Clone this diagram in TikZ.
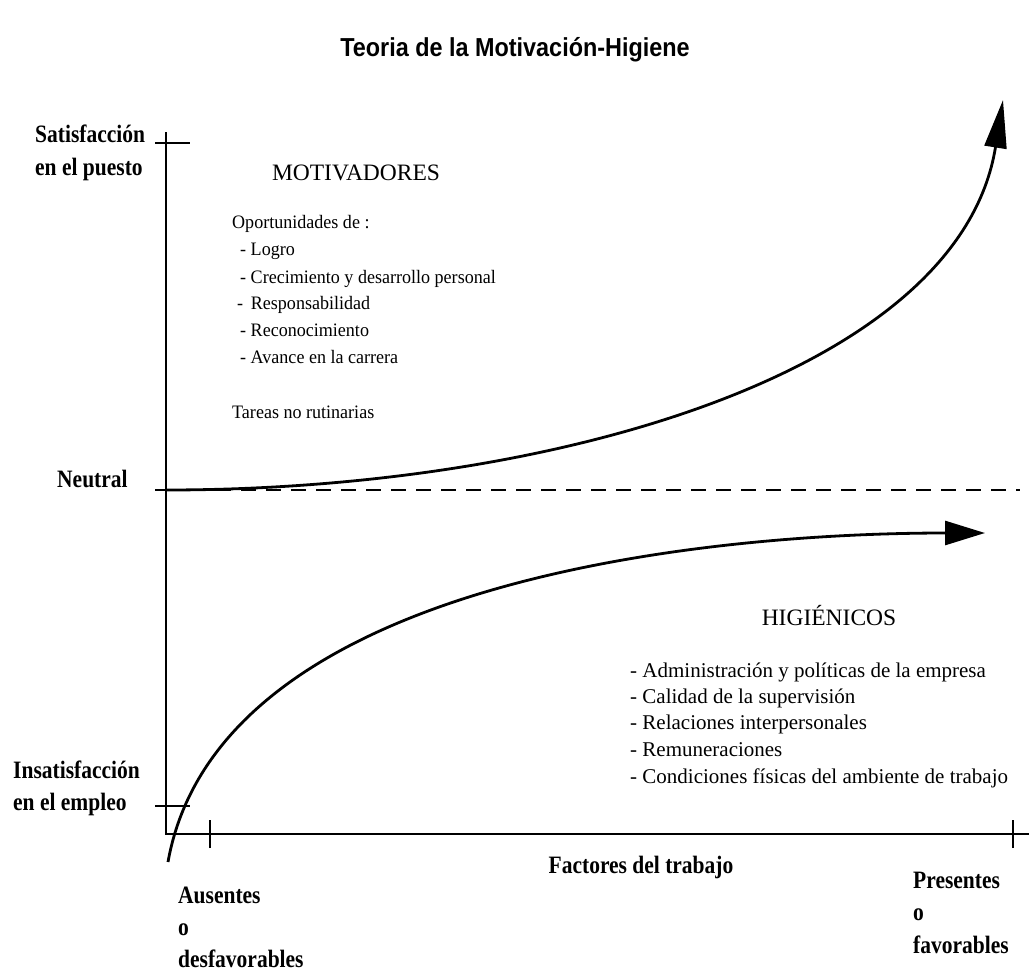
\documentclass[tikz,border=0pt]{standalone}
\usepackage{fontspec}
\setmainfont{Liberation Serif}
\newfontfamily\labelfont[FakeStretch=0.86]{Liberation Serif}
\newfontfamily\listfont[FakeStretch=0.95]{Liberation Serif}
\newfontfamily\titlefont[FakeStretch=0.9]{Liberation Sans}
\usetikzlibrary{arrows.meta}
\begin{document}
\begin{tikzpicture}[x=1pt,y=-1pt,
  axislabel/.style={font=\labelfont\bfseries\fontsize{25}{30}\selectfont,inner sep=0pt,anchor=base west},
  heading/.style={font=\fontsize{23.5}{28}\selectfont,inner sep=0pt,anchor=base},
  motitem/.style={font=\listfont\fontsize{19}{22}\selectfont,inner sep=0pt,anchor=base west},
  higitem/.style={font=\fontsize{21}{25}\selectfont,inner sep=0pt,anchor=base west},
  axis/.style={line width=2.6pt},
  curve/.style={line width=2.8pt},
  tick/.style={line width=1.8pt}]
\useasboundingbox (0,0) rectangle (1029,972);

% axes
\coordinate (O) at (166,834);
\coordinate (ytop) at (166,132);
\coordinate (xend) at (1029,834);
\draw[axis] (ytop) -- (O) -- (xend);

% ticks on the vertical axis
\coordinate (sat) at (166,143);
\coordinate (neu) at (166,490);
\coordinate (ins) at (166,806);
\draw[tick] ([xshift=-11pt]sat) -- ([xshift=24pt]sat);
\draw[tick] ([xshift=-11pt]neu) -- (neu);
\draw[tick] ([xshift=-11pt]ins) -- ([xshift=24pt]ins);

% ticks on the horizontal axis
\coordinate (tA) at (210,834);
\coordinate (tP) at (1013,834);
\draw[tick] ([yshift=-14pt]tA) -- ([yshift=14pt]tA);
\draw[tick] ([yshift=-14pt]tP) -- ([yshift=14pt]tP);

% neutral level
\coordinate (dashend) at (1020,490);
\draw[axis,dash pattern=on 15pt off 10pt] (neu) -- (dashend);

% motivators curve
\coordinate (mtip) at (1003,100);
\draw[curve,-{Triangle[length=48pt,width=22pt]}] (neu) .. controls (560,490) and (960,370) .. (mtip);

% hygiene curve
\coordinate (hstart) at (168,862);
\coordinate (htip) at (985,533);
\draw[curve,-{Triangle[length=40pt,width=24pt]}] (hstart) .. controls (218,582) and (700,533) .. (htip);

% title
\node[font=\titlefont\bfseries\fontsize{26}{30}\selectfont,inner sep=0pt,anchor=base] (title) at (515,56) {Teoria de la Motivación-Higiene};

% vertical axis labels
\node[axislabel] (lsat1) at (35,142) {Satisfacción};
\node[axislabel] (lsat2) at (35,175) {en el puesto};
\node[axislabel] (lneu) at (57,487) {Neutral};
\node[axislabel] (lins1) at (13,778) {Insatisfacción};
\node[axislabel] (lins2) at (13,810) {en el empleo};

% horizontal axis labels
\node[axislabel,anchor=base] (lfac) at (641,873) {Factores del trabajo};
\node[axislabel] (laus1) at (178,903) {Ausentes};
\node[axislabel] (laus2) at (178,935) {o};
\node[axislabel] (laus3) at (178,967) {desfavorables};
\node[axislabel] (lpre1) at (913,888) {Presentes};
\node[axislabel] (lpre2) at (913,920) {o};
\node[axislabel] (lpre3) at (913,953) {favorables};

% motivators
\node[heading] (mot) at (356,180) {MOTIVADORES};
\node[motitem] (m0) at (232,228) {Oportunidades de :};
\node[motitem] (m1) at (240,255) {- Logro};
\node[motitem] (m2) at (240,283) {- Crecimiento y desarrollo personal};
\node[motitem] (m3) at (237,309) {- \,Responsabilidad};
\node[motitem] (m4) at (240,336) {- Reconocimiento};
\node[motitem] (m5) at (240,363) {- Avance en la carrera};
\node[motitem] (m6) at (232,418) {Tareas no rutinarias};

% hygiene factors
\node[heading] (hig) at (829,625) {HIGIÉNICOS};
\node[higitem] (h1) at (630,677) {- Administración y políticas de la empresa};
\node[higitem] (h2) at (630,703) {- Calidad de la supervisión};
\node[higitem] (h3) at (630,729) {- Relaciones interpersonales};
\node[higitem] (h4) at (630,756) {- Remuneraciones};
\node[higitem] (h5) at (630,783) {- Condiciones físicas del ambiente de trabajo};
\end{tikzpicture}
\end{document}
